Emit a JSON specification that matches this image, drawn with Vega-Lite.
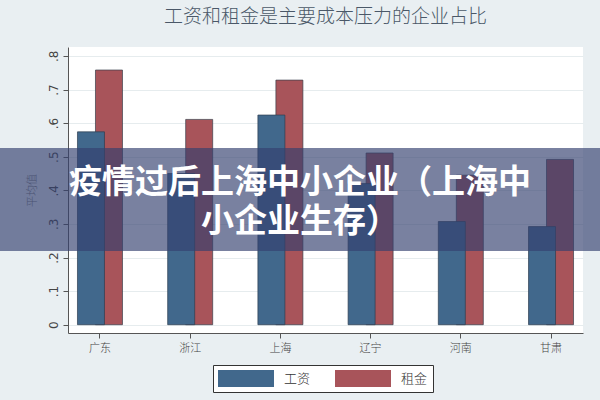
{
  "$schema": "https://vega.github.io/schema/vega-lite/v6.json",
  "autosize": "none",
  "width": 515,
  "height": 286,
  "padding": {"left": 68, "top": 47, "right": 17, "bottom": 67},
  "background": "#e9eff2",
  "title": {
    "text": "工资和租金是主要成本压力的企业占比",
    "font": "Noto Sans CJK SC",
    "fontSize": 19,
    "fontWeight": 300,
    "color": "#4a5868",
    "anchor": "middle",
    "offset": 20
  },
  "datasets": {
    "cost": [
      {"省份": "广东", "类别": "工资", "平均值": 0.574},
      {"省份": "广东", "类别": "租金", "平均值": 0.758},
      {"省份": "浙江", "类别": "工资", "平均值": 0.45},
      {"省份": "浙江", "类别": "租金", "平均值": 0.611},
      {"省份": "上海", "类别": "工资", "平均值": 0.624},
      {"省份": "上海", "类别": "租金", "平均值": 0.728},
      {"省份": "辽宁", "类别": "工资", "平均值": 0.42},
      {"省份": "辽宁", "类别": "租金", "平均值": 0.511},
      {"省份": "河南", "类别": "工资", "平均值": 0.307},
      {"省份": "河南", "类别": "租金", "平均值": 0.445},
      {"省份": "甘肃", "类别": "工资", "平均值": 0.292},
      {"省份": "甘肃", "类别": "租金", "平均值": 0.492}
    ],
    "banner": [
      {"标题": "疫情过后上海中小企业（上海中\n小企业生存）", "上沿": 0.526, "下沿": 0.219, "首行": 0.422}
    ]
  },
  "resolve": {"axis": {"x": "independent", "y": "independent"}},
  "layer": [
    {
      "data": {"name": "cost"},
      "transform": [{"filter": "datum['类别'] == '租金'"}],
      "mark": {"type": "bar", "width": 27, "xOffset": 9, "stroke": "#3a3f4a", "strokeWidth": 0.7},
      "encoding": {
        "x": {
          "field": "省份",
          "type": "nominal",
          "sort": ["广东", "浙江", "上海", "辽宁", "河南", "甘肃"],
          "scale": {"paddingInner": 0.5, "paddingOuter": 0.1045},
          "axis": {
            "title": null,
            "labelAngle": 0,
            "labelFont": "Noto Sans CJK SC",
            "labelFontSize": 11,
            "labelFontWeight": 300,
            "labelColor": "#444444",
            "labelPadding": 4,
            "domainColor": "#555555",
            "tickColor": "#555555",
            "tickSize": 5,
            "grid": false
          }
        },
        "y": {
          "field": "平均值",
          "type": "quantitative",
          "scale": {"domain": [-0.0247, 0.8265], "nice": false, "zero": false},
          "axis": {
            "title": "平均值",
            "titleFont": "Noto Sans CJK SC",
            "titleFontSize": 11,
            "titleFontWeight": 300,
            "titleColor": "#777777",
            "titlePadding": 10,
            "values": [0, 0.1, 0.2, 0.3, 0.4, 0.5, 0.6, 0.7, 0.8],
            "labelExpr": "datum.value == 0 ? '0' : replace(format(datum.value, '.1f'), '0.', '.')",
            "labelAngle": 270,
            "labelAlign": "center",
            "labelBaseline": "bottom",
            "labelOverlap": false,
            "labelFont": "DejaVu Sans",
            "labelFontSize": 12,
            "labelColor": "#444444",
            "labelPadding": 3,
            "domainColor": "#555555",
            "tickColor": "#555555",
            "tickSize": 5,
            "gridColor": "#e6ecee",
            "gridWidth": 1
          }
        },
        "color": {
          "field": "类别",
          "type": "nominal",
          "scale": {"domain": ["工资", "租金"], "range": ["#41688c", "#a8545a"]},
          "legend": {
            "title": null,
            "orient": "none",
            "legendX": 145,
            "legendY": 318,
            "direction": "horizontal",
            "columns": 2,
            "symbolType": "M-1,-0.3036H1V0.3036H-1Z",
            "symbolSize": 3136,
            "symbolStrokeWidth": 0,
            "clipHeight": 17,
            "labelFont": "Noto Sans CJK SC",
            "labelFontSize": 13,
            "labelFontWeight": 300,
            "labelColor": "#333333",
            "labelOffset": 10,
            "columnPadding": 24,
            "padding": 5,
            "fillColor": "#ffffff",
            "strokeColor": "#333333"
          }
        }
      }
    },
    {
      "data": {"name": "cost"},
      "transform": [{"filter": "datum['类别'] == '工资'"}],
      "mark": {"type": "bar", "width": 27, "xOffset": -9, "stroke": "#2e3e50", "strokeWidth": 0.7},
      "encoding": {
        "x": {"field": "省份", "type": "nominal", "sort": ["广东", "浙江", "上海", "辽宁", "河南", "甘肃"], "axis": null},
        "y": {"field": "平均值", "type": "quantitative", "axis": null},
        "color": {"field": "类别", "type": "nominal"}
      }
    },
    {
      "data": {"name": "banner"},
      "mark": {"type": "rect", "color": "#33406f", "opacity": 0.66, "xOffset": -68, "x2Offset": 17},
      "encoding": {
        "x": {"value": 0},
        "x2": {"value": "width"},
        "y": {"field": "上沿", "type": "quantitative", "axis": null},
        "y2": {"field": "下沿"}
      }
    },
    {
      "data": {"name": "banner"},
      "mark": {
        "type": "text",
        "font": "Noto Sans CJK SC",
        "fontSize": 33,
        "fontWeight": "bold",
        "color": "#ffffff",
        "align": "center",
        "baseline": "middle",
        "lineBreak": "\n",
        "lineHeight": 39
      },
      "encoding": {
        "x": {"value": {"expr": "(width + 17 - 68) / 2"}},
        "y": {"field": "首行", "type": "quantitative", "axis": null},
        "text": {"field": "标题"}
      }
    }
  ],
  "config": {
    "view": {"fill": "#ffffff", "stroke": null}
  }
}
